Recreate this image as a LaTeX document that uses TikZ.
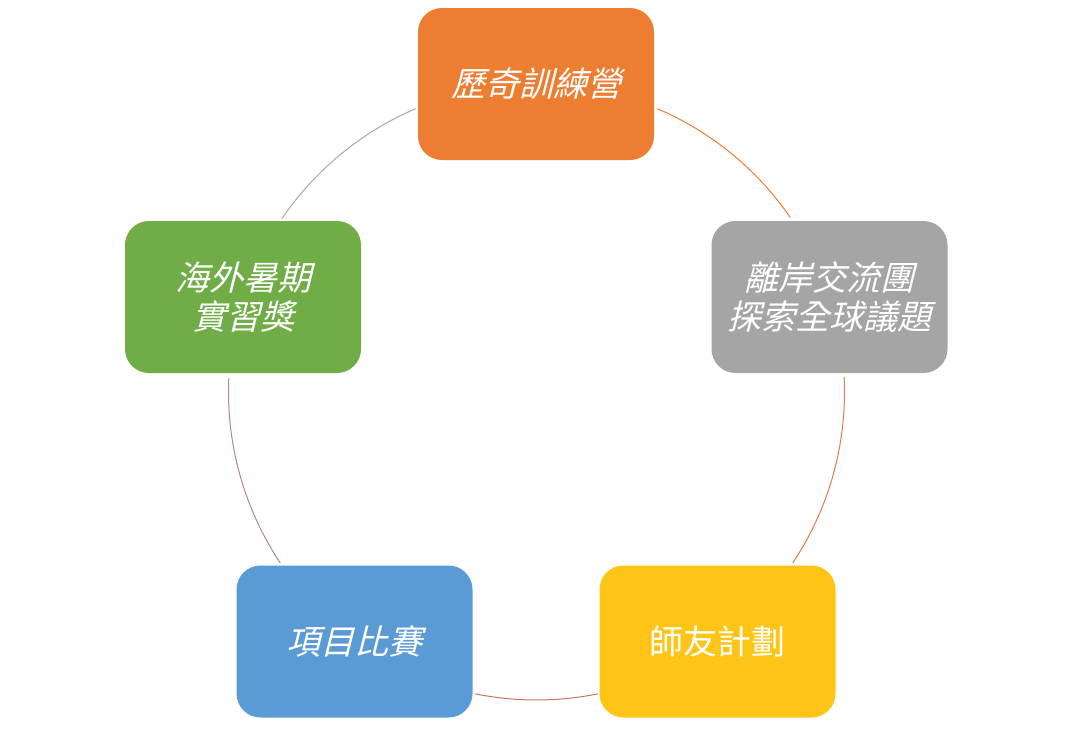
\documentclass[tikz,border=0pt]{standalone}
\usepackage{fontspec}
\newfontfamily\cjk{Noto Sans CJK TC}
\newfontfamily\cjkit{Noto Sans CJK TC}[FakeSlant=0.25]
\definecolor{corange}{HTML}{ED7D31}
\definecolor{cgray}{HTML}{A5A5A5}
\definecolor{cyellow}{HTML}{FFC516}
\definecolor{cblue}{HTML}{5B9BD5}
\definecolor{cgreen}{HTML}{70AD47}
\definecolor{arcA}{HTML}{ED7D31}
\definecolor{arcB}{HTML}{E07A4A}
\definecolor{arcC}{HTML}{C8755F}
\definecolor{arcD}{HTML}{B58585}
\definecolor{arcE}{HTML}{A8A8A8}
\tikzset{
  box/.style={rounded corners=24pt, minimum width=236pt, minimum height=152pt,
    text=white, align=center, font=\fontsize{34}{39}\selectfont\cjkit, inner sep=0pt},
  ring/.style={line width=1pt}
}
\begin{document}
\begin{tikzpicture}[x=1pt,y=1pt]
\useasboundingbox (0,0) rectangle (1073,-736);
\coordinate (c) at (536.5,-392);
\def\R{308}
% arcs
\draw[ring, arcA] ([shift={(66.9:\R)}]c) arc[start angle=66.9, end angle=34.5, radius=\R];
\draw[ring, arcB] ([shift={(2.8:\R)}]c) arc[start angle=2.8, end angle=-33.7, radius=\R];
\draw[ring, arcC] ([shift={(-78.5:\R)}]c) arc[start angle=-78.5, end angle=-101.5, radius=\R];
\draw[ring, arcD] ([shift={(213.7:\R)}]c) arc[start angle=213.7, end angle=177.4, radius=\R];
\draw[ring, arcE] ([shift={(145.8:\R)}]c) arc[start angle=145.8, end angle=113.1, radius=\R];
% boxes
\node[box, fill=corange] (n1) at (536,-84) {歷奇訓練營};
\node[box, fill=cgray] (n2) at (829.5,-297) {離岸交流團\\探索全球議題};
\node[box, fill=cyellow, font=\fontsize{34}{39}\selectfont\cjk] (n3) at (717.5,-641.5) {師友計劃};
\node[box, fill=cblue] (n4) at (354.5,-641.5) {項目比賽};
\node[box, fill=cgreen] (n5) at (243,-297) {海外暑期\\實習獎};
\end{tikzpicture}
\end{document}
